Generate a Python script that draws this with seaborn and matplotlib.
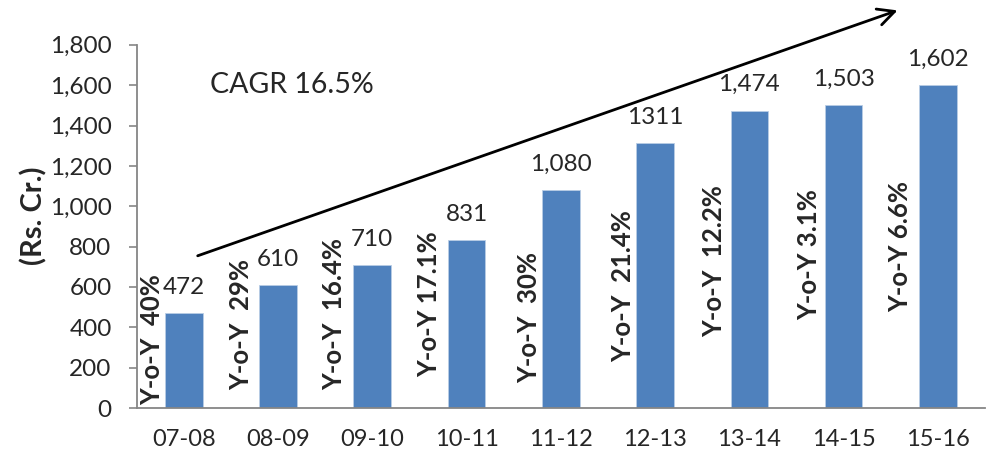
"""
Revenue bar chart (Rs. Cr.) with Y-o-Y growth labels and CAGR arrow
"""
import numpy as np
import pandas as pd
import matplotlib
matplotlib.use("Agg")
import matplotlib.pyplot as plt
import seaborn as sns

# ── data ──
years = ["07-08", "08-09", "09-10", "10-11", "11-12", "12-13", "13-14", "14-15", "15-16"]
revenue = [472, 610, 710, 831, 1080, 1311, 1474, 1503, 1602]
value_labels = ["472", "610", "710", "831", "1,080", "1311", "1,474", "1,503", "1,602"]
yoy_labels = ["Y-o-Y  40%", "Y-o-Y  29%", "Y-o-Y  16.4%", "Y-o-Y 17.1%", "Y-o-Y  30%",
              "Y-o-Y  21.4%", "Y-o-Y  12.2%", "Y-o-Y 3.1%", "Y-o-Y 6.6%"]
cagr_text = "CAGR 16.5%"
y_ticks = [0, 200, 400, 600, 800, 1000, 1200, 1400, 1600, 1800]

# Y-o-Y 文本的摆放位置（相对类别中心的 x 偏移，底端 y 值）
yoy_dx = [-0.34, -0.39, -0.40, -0.40, -0.34, -0.34, -0.37, -0.37, -0.40]
yoy_y0 = [15, 90, 90, 155, 125, 230, 350, 435, 475]

sns.set_theme(style="white")
plt.rcParams["font.family"] = ["Lato", "DejaVu Sans"]

df = pd.DataFrame({"year": years, "revenue": revenue})

fig = plt.figure(figsize=(9.9, 4.57), dpi=100)
ax = fig.add_axes([0.138, 0.107, 0.857, 0.795])

sns.barplot(data=df, x="year", y="revenue", color="#4F81BD", saturation=1,
            width=0.4, edgecolor="#B9CDE5", linewidth=0.6, ax=ax)

ax.set_xlim(-0.5, len(years) - 0.5)
ax.set_ylim(0, 1800)
ax.set_yticks(y_ticks)
ax.set_yticklabels([f"{t:,}" for t in y_ticks])
ax.set_xlabel("")
ax.set_ylabel("(Rs. Cr.)", fontsize=21, fontweight="bold")
ax.yaxis.set_label_coords(-0.105, 0.53)

# Excel 风格：x 轴刻度在类别之间
ax.set_xticks(np.arange(-0.5, len(years)), minor=True)
ax.tick_params(axis="x", which="major", length=0, pad=15, labelsize=17)
ax.tick_params(axis="x", which="minor", length=7, width=1.2, color="#868686", direction="out")
ax.tick_params(axis="y", length=6, width=1.2, color="#868686", direction="out",
               pad=12, labelsize=17.5, left=True)

for side in ["top", "right"]:
    ax.spines[side].set_visible(False)
for side in ["left", "bottom"]:
    ax.spines[side].set_color("#868686")
    ax.spines[side].set_linewidth(1.3)

# 柱顶数值
for i, (v, lab) in enumerate(zip(revenue, value_labels)):
    ax.annotate(lab, xy=(i, v), xytext=(0, 11), textcoords="offset points",
                ha="center", va="bottom", fontsize=17.5)

# Y-o-Y 竖排文本
for i, lab in enumerate(yoy_labels):
    ax.text(i + yoy_dx[i], yoy_y0[i], lab, rotation=90, ha="center", va="bottom",
            fontsize=18.5, fontweight="bold")

# CAGR 箭头
ax.annotate("", xy=(7.6, 1975), xytext=(0.12, 750),
            arrowprops=dict(arrowstyle="->", color="black", lw=2, mutation_scale=30),
            annotation_clip=False)
ax.text(0.28, 1600, cagr_text, fontsize=20.5, ha="left", va="center")

plt.savefig("out.png", dpi=100)
plt.close()
